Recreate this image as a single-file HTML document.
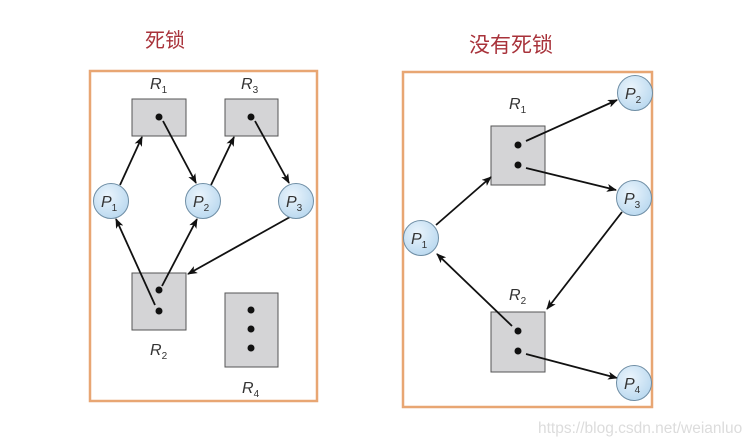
<!DOCTYPE html>
<html><head><meta charset="utf-8"><style>
html,body{margin:0;padding:0;background:#fff;}
svg{display:block;}
.t{font-family:"Liberation Sans","Noto Sans CJK SC",sans-serif;}
.lbl{font-family:"Liberation Sans",sans-serif;font-style:italic;font-size:16px;fill:#333;}
.sub{font-size:10px;font-style:normal;}
</style></head><body>
<svg width="756" height="447" viewBox="0 0 756 447" xmlns="http://www.w3.org/2000/svg">
<defs>
<marker id="a" markerWidth="10" markerHeight="8" refX="9" refY="4" orient="auto" markerUnits="userSpaceOnUse">
<path d="M0,0 L10,4 L0,8 L2.5,4 z" fill="#111"/>
</marker>
<radialGradient id="g" cx="0.4" cy="0.35" r="0.7">
<stop offset="0" stop-color="#eaf4fc"/><stop offset="1" stop-color="#b9d8ef"/>
</radialGradient>
</defs>
<rect width="756" height="447" fill="#fff"/>
<text class="t" x="165" y="47" font-size="20" fill="#a8323a" text-anchor="middle">死锁</text>
<text class="t" x="511" y="52" font-size="21" fill="#a8323a" text-anchor="middle">没有死锁</text>
<rect x="90" y="71" width="227" height="330" fill="none" stroke="#e8a673" stroke-width="2.5"/>
<rect x="403" y="72" width="249" height="335" fill="none" stroke="#e8a673" stroke-width="2.5"/>

<g stroke="#555" stroke-width="1" fill="#d4d4d6">
<rect x="132" y="99" width="54" height="37"/>
<rect x="225" y="99" width="53" height="37"/>
<rect x="132" y="273" width="54" height="57"/>
<rect x="225" y="293" width="53" height="74"/>
<rect x="491" y="126" width="54" height="59"/>
<rect x="491" y="312" width="54" height="60"/>
</g>
<g fill="#111">
<circle cx="159" cy="117" r="3.5"/><circle cx="251" cy="117" r="3.5"/>
<circle cx="159" cy="290" r="3.5"/><circle cx="159" cy="311" r="3.5"/>
<circle cx="251" cy="310" r="3.5"/><circle cx="251" cy="329" r="3.5"/><circle cx="251" cy="348" r="3.5"/>
<circle cx="518" cy="145" r="3.5"/><circle cx="518" cy="165" r="3.5"/>
<circle cx="518" cy="331" r="3.5"/><circle cx="518" cy="351" r="3.5"/>
</g>
<g stroke="#111" stroke-width="1.8" marker-end="url(#a)">
<line x1="120" y1="185" x2="142" y2="137"/>
<line x1="163" y1="121" x2="196" y2="183"/>
<line x1="211" y1="185" x2="234" y2="137"/>
<line x1="255" y1="121" x2="289" y2="183"/>
<line x1="290" y1="217" x2="188" y2="274"/>
<line x1="155" y1="305" x2="116" y2="219"/>
<line x1="162" y1="286" x2="197" y2="219"/>
<line x1="436" y1="225" x2="491" y2="177"/>
<line x1="526" y1="141" x2="617" y2="100"/>
<line x1="526" y1="168" x2="616" y2="190"/>
<line x1="622" y1="212" x2="547" y2="309"/>
<line x1="512" y1="326" x2="437" y2="254"/>
<line x1="526" y1="354" x2="617" y2="378"/>
</g>
<g stroke="#6f8ea5" stroke-width="1" fill="url(#g)">
<circle cx="111" cy="201" r="17.5"/><circle cx="203" cy="201" r="17.5"/><circle cx="296" cy="201" r="17.5"/>
<circle cx="421" cy="238" r="17.5"/><circle cx="635" cy="93" r="17.5"/><circle cx="634" cy="198" r="17.5"/><circle cx="634" cy="383" r="17.5"/>
</g>
<g class="lbl">
<text x="101" y="207">P<tspan class="sub" dy="4">1</tspan></text>
<text x="193" y="207">P<tspan class="sub" dy="4">2</tspan></text>
<text x="286" y="207">P<tspan class="sub" dy="4">3</tspan></text>
<text x="411" y="244">P<tspan class="sub" dy="4">1</tspan></text>
<text x="625" y="99">P<tspan class="sub" dy="4">2</tspan></text>
<text x="624" y="204">P<tspan class="sub" dy="4">3</tspan></text>
<text x="624" y="389">P<tspan class="sub" dy="4">4</tspan></text>
<text x="150" y="89">R<tspan class="sub" dy="4">1</tspan></text>
<text x="241" y="89">R<tspan class="sub" dy="4">3</tspan></text>
<text x="150" y="355">R<tspan class="sub" dy="4">2</tspan></text>
<text x="242" y="393">R<tspan class="sub" dy="4">4</tspan></text>
<text x="509" y="109">R<tspan class="sub" dy="4">1</tspan></text>
<text x="509" y="300">R<tspan class="sub" dy="4">2</tspan></text>
</g>
<text class="t" x="538" y="433" font-size="15.5" fill="#dcdcdc">https://blog.csdn.net/weianluo</text>
</svg>
</body></html>
